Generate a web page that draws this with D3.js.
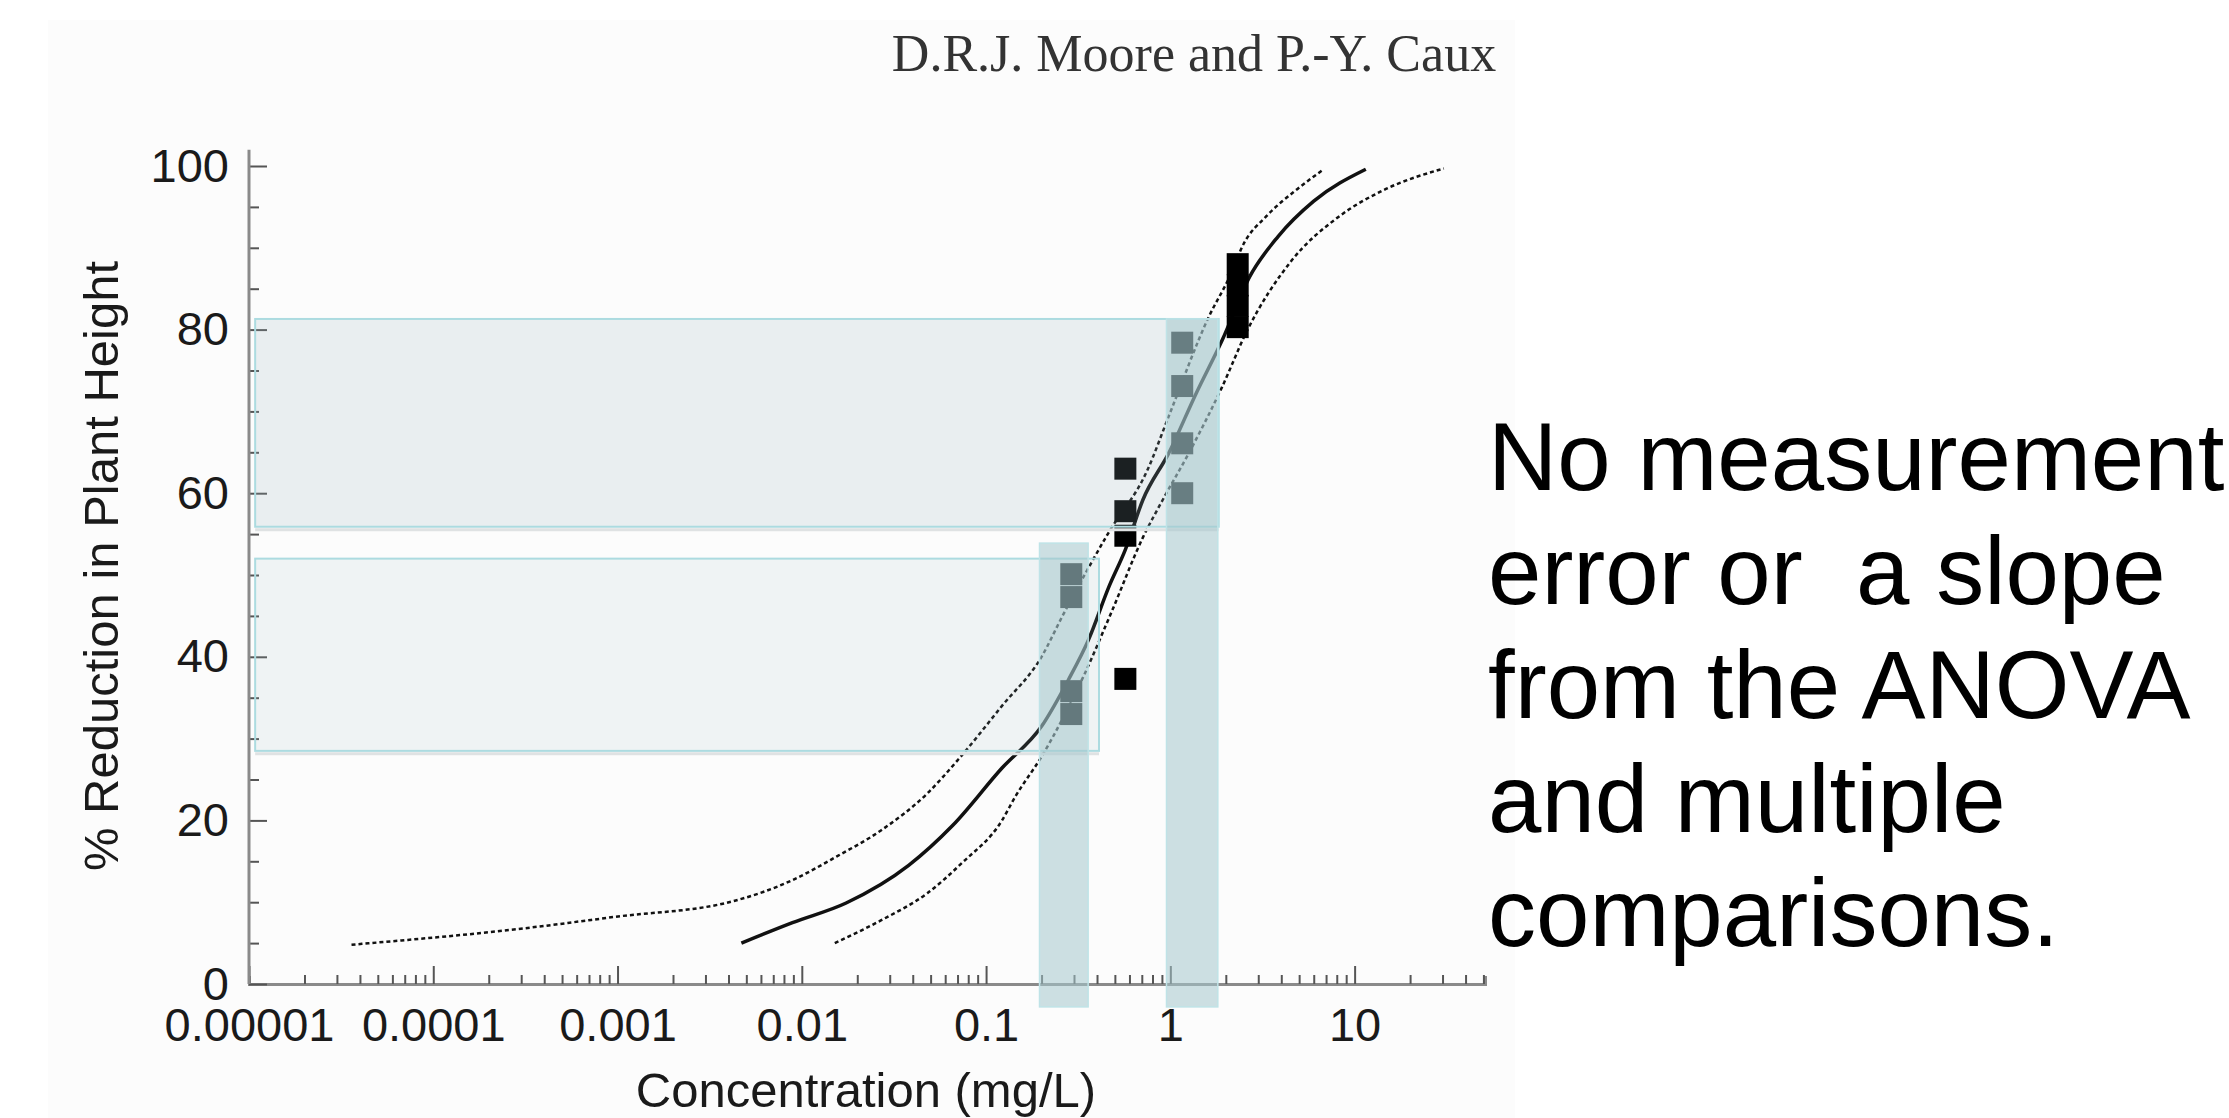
<!DOCTYPE html>
<html>
<head>
<meta charset="utf-8">
<script src="https://cdn.jsdelivr.net/npm/d3@7"></script>
<style>
  html, body { margin: 0; padding: 0; background: #fff; }
  svg { display: block; }
</style>
</head>
<body>
<svg id="chart" width="2229" height="1118"></svg>
<script>
// fitted concentration-response curve
var fitConc  = [0.0047, 0.0089, 0.0174, 0.038, 0.066, 0.122, 0.2, 0.28, 0.36, 0.465, 0.57, 0.71, 0.98, 1.38, 1.91, 2.7, 3.85, 6.0, 11.5];
var fitValue = [5.0, 7.5, 9.9, 14.5, 19.4, 26.4, 31.5, 37.2, 42.1, 48.6, 53.1, 59.2, 64.9, 72.2, 78.7, 86.5, 91.4, 95.7, 99.6];

// confidence bounds (dotted)
var upperConc  = [3.6e-5, 3.1e-4, 9.6e-4, 0.0042, 0.0089, 0.0155, 0.027, 0.048, 0.071, 0.122, 0.2, 0.26, 0.46, 0.75, 0.98, 1.62, 2.1, 2.5, 3.3, 4.9, 6.8];
var upperValue = [4.8, 6.8, 8.2, 10.1, 12.7, 15.6, 18.8, 23.3, 27.5, 34.0, 40.0, 45.0, 55.1, 62.8, 69.4, 81.6, 86.5, 90.5, 93.8, 97.2, 99.6];
var lowerConc  = [0.0151, 0.027, 0.048, 0.074, 0.122, 0.144, 0.2, 0.344, 0.48, 0.71, 0.91, 1.26, 1.91, 2.6, 4.5, 8.2, 14.2, 30.5];
var lowerValue = [5.0, 7.8, 11.1, 14.8, 20.0, 22.9, 27.8, 38.0, 45.5, 54.6, 59.2, 64.9, 73.0, 79.8, 88.3, 93.8, 97.0, 99.7];

// observations
var pointConc  = [0.29, 0.29, 0.29, 0.29, 0.57, 0.57, 0.57, 0.57, 1.16, 1.16, 1.16, 1.16, 2.32, 2.32, 2.32, 2.32];
var pointValue = [50.1, 47.3, 35.8, 33.0, 63.0, 57.8, 54.8, 37.3, 78.4, 73.1, 66.1, 60.0, 88.0, 85.4, 82.9, 80.3];

// shaded response ranges (horizontal) and concentration ranges (vertical)
var bandConcLow   = [1.08e-5, 1.08e-5];
var bandConcHigh  = [1.83, 0.41];
var bandValueLow  = [55.9, 28.5];
var bandValueHigh = [81.3, 52.0];
var barConcLow    = [0.195, 0.953];
var barConcHigh   = [0.358, 1.81];
var barValueLow   = [-2.8, -2.8];
var barValueHigh  = [53.9, 81.3];

var xMajorTicks = [1e-5, 1e-4, 1e-3, 0.01, 0.1, 1, 10];
var xTickLabels = ["0.00001", "0.0001", "0.001", "0.01", "0.1", "1", "10"];
var yMajorTicks = [0, 20, 40, 60, 80, 100];
var yTickLabels = ["0", "20", "40", "60", "80", "100"];

var noteLines = ["No measurement", "error or  a slope", "from the ANOVA", "and multiple", "comparisons."];

var svg = d3.select("#chart");
var x = d3.scaleLog().domain([1e-5, 51]).range([249, 1485]);
var y = d3.scaleLinear().domain([0, 100]).range([984, 166]);
var sans = "'Liberation Sans', Arial, sans-serif";

function pairs(cs, vs) {
  return cs.map(function(c, i) { return [c, vs[i]]; });
}

// pasted figure background
svg.append("rect")
  .attr("x", 48).attr("y", 20).attr("width", 1467).attr("height", 1098)
  .attr("fill", "#fcfcfc");

// header
svg.append("text")
  .attr("x", 1194).attr("y", 71)
  .attr("text-anchor", "middle")
  .attr("font-family", "'Liberation Serif', 'Times New Roman', serif")
  .attr("font-size", 52)
  .attr("fill", "#333")
  .text("D.R.J. Moore and P.-Y. Caux");

// curves
var line = d3.line()
  .x(function(d) { return x(d[0]); })
  .y(function(d) { return y(d[1]); })
  .curve(d3.curveMonotoneX);

svg.append("path")
  .datum(pairs(upperConc, upperValue))
  .attr("d", line)
  .attr("fill", "none").attr("stroke", "#111")
  .attr("stroke-width", 2.5).attr("stroke-dasharray", "4,3");

svg.append("path")
  .datum(pairs(lowerConc, lowerValue))
  .attr("d", line)
  .attr("fill", "none").attr("stroke", "#111")
  .attr("stroke-width", 2.5).attr("stroke-dasharray", "4,3");

svg.append("path")
  .datum(pairs(fitConc, fitValue))
  .attr("d", line)
  .attr("fill", "none").attr("stroke", "#111")
  .attr("stroke-width", 3.5);

// data points
svg.selectAll("rect.obs")
  .data(pairs(pointConc, pointValue))
  .enter().append("rect")
  .attr("class", "obs")
  .attr("x", function(d) { return x(d[0]) - 11; })
  .attr("y", function(d) { return y(d[1]) - 11; })
  .attr("width", 22).attr("height", 22)
  .attr("fill", "#000");

// axes
svg.append("g")
  .attr("transform", "translate(0," + y(0) + ")")
  .call(d3.axisBottom(x)
    .tickValues(xMajorTicks)
    .tickFormat(function(d, i) { return xTickLabels[i]; })
    .tickSize(-18).tickSizeOuter(-8).tickPadding(24));

var xMinor = x.ticks().filter(function(t) { return xMajorTicks.indexOf(t) < 0; });
svg.append("g")
  .attr("transform", "translate(0," + y(0) + ")")
  .call(d3.axisBottom(x).tickValues(xMinor).tickFormat("").tickSize(-9))
  .call(function(g) { g.select(".domain").remove(); });

var yAxis = svg.append("g")
  .attr("transform", "translate(" + x(1e-5) + ",0)")
  .call(d3.axisLeft(y)
    .tickValues(yMajorTicks)
    .tickFormat(function(d, i) { return yTickLabels[i]; })
    .tickSize(-18).tickSizeOuter(0).tickPadding(20));
yAxis.select(".domain").remove();

svg.append("g")
  .attr("transform", "translate(" + x(1e-5) + ",0)")
  .call(d3.axisLeft(y).tickValues(d3.range(5, 100, 5).filter(function(v) { return v % 20; }))
    .tickFormat("").tickSize(-10))
  .call(function(g) { g.select(".domain").remove(); });

svg.append("line")
  .attr("x1", x(1e-5)).attr("x2", x(1e-5))
  .attr("y1", y(0)).attr("y2", y(102))
  .attr("stroke", "#8a8a8a").attr("stroke-width", 3);

svg.selectAll(".domain").attr("stroke", "#8a8a8a").attr("stroke-width", 3);
svg.selectAll(".tick line").attr("stroke", "#555").attr("stroke-width", 2);
svg.selectAll(".tick text")
  .attr("font-family", sans).attr("font-size", 47).attr("fill", "#1a1a1a");

// axis titles
svg.append("text")
  .attr("x", 866).attr("y", 1107)
  .attr("text-anchor", "middle")
  .attr("font-family", sans).attr("font-size", 49).attr("fill", "#1a1a1a")
  .text("Concentration (mg/L)");

svg.append("text")
  .attr("transform", "translate(118,566) rotate(-90)")
  .attr("text-anchor", "middle")
  .attr("font-family", sans).attr("font-size", 49).attr("fill", "#1a1a1a")
  .text("% Reduction in Plant Height");

// soft shadow under the bottom edge of each band
svg.selectAll("line.bandShadow")
  .data(d3.range(bandConcLow.length))
  .enter().append("line")
  .attr("class", "bandShadow")
  .attr("x1", function(i) { return x(bandConcLow[i]); })
  .attr("x2", function(i) { return x(bandConcHigh[i]); })
  .attr("y1", function(i) { return y(bandValueLow[i]) + 3; })
  .attr("y2", function(i) { return y(bandValueLow[i]) + 3; })
  .attr("stroke", "#dfe2e3").attr("stroke-width", 3);

// horizontal response bands
svg.selectAll("rect.band")
  .data(d3.range(bandConcLow.length))
  .enter().append("rect")
  .attr("class", "band")
  .attr("x", function(i) { return x(bandConcLow[i]); })
  .attr("y", function(i) { return y(bandValueHigh[i]); })
  .attr("width", function(i) { return x(bandConcHigh[i]) - x(bandConcLow[i]); })
  .attr("height", function(i) { return y(bandValueLow[i]) - y(bandValueHigh[i]); })
  .attr("fill", "rgb(150,180,190)")
  .attr("fill-opacity", function(i) { return i ? 0.12 : 0.18; })
  .attr("stroke", "#acdbe0").attr("stroke-width", 2);

// vertical concentration bars
svg.selectAll("rect.bar")
  .data(d3.range(barConcLow.length))
  .enter().append("rect")
  .attr("class", "bar")
  .attr("x", function(i) { return x(barConcLow[i]); })
  .attr("y", function(i) { return y(barValueHigh[i]); })
  .attr("width", function(i) { return x(barConcHigh[i]) - x(barConcLow[i]); })
  .attr("height", function(i) { return y(barValueLow[i]) - y(barValueHigh[i]); })
  .attr("fill", "rgb(166,199,205)").attr("fill-opacity", 0.56)
  .attr("stroke", "#bfe3e7").attr("stroke-width", 1.5);

// side note
svg.selectAll("text.note")
  .data(noteLines)
  .enter().append("text")
  .attr("class", "note")
  .attr("x", 1488)
  .attr("y", function(d, i) { return 490 + i * 114; })
  .attr("font-family", sans).attr("font-size", 96).attr("fill", "#000")
  .style("white-space", "pre")
  .text(function(d) { return d; });
</script>
</body>
</html>
